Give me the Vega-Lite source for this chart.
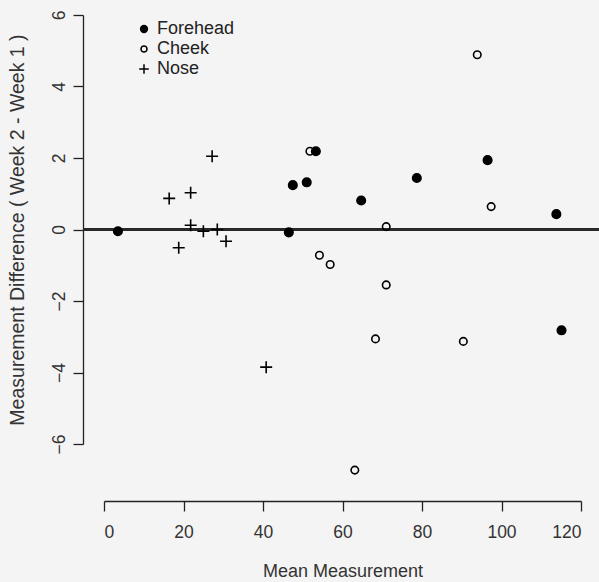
{
  "$schema": "https://vega.github.io/schema/vega-lite/v6.json",
  "width": 477,
  "height": 429,
  "autosize": {"type": "none"},
  "padding": {"left": 104, "top": 15, "right": 18, "bottom": 138},
  "background": "#f4f4f4",
  "config": {
    "view": {"stroke": null},
    "font": "Liberation Sans",
    "axis": {"grid": false, "domainColor": "#222", "domainWidth": 1.3, "tickColor": "#222", "tickWidth": 1.3, "tickSize": 10, "labelColor": "#333", "titleColor": "#333", "labelFontSize": 17.5, "titleFontSize": 18, "labelFont": "Liberation Sans", "titleFont": "Liberation Sans", "titleFontWeight": "normal"}
  },
  "data": {"values": [
    {"site": "Forehead", "mean": 3.5, "diff": -0.05},
    {"site": "Forehead", "mean": 46.5, "diff": -0.08},
    {"site": "Forehead", "mean": 47.5, "diff": 1.24},
    {"site": "Forehead", "mean": 51.0, "diff": 1.32},
    {"site": "Forehead", "mean": 53.3, "diff": 2.19},
    {"site": "Forehead", "mean": 64.7, "diff": 0.81},
    {"site": "Forehead", "mean": 78.7, "diff": 1.44},
    {"site": "Forehead", "mean": 96.5, "diff": 1.94},
    {"site": "Forehead", "mean": 113.8, "diff": 0.43},
    {"site": "Forehead", "mean": 115.1, "diff": -2.82},
    {"site": "Cheek", "mean": 51.8, "diff": 2.19},
    {"site": "Cheek", "mean": 93.9, "diff": 4.89},
    {"site": "Cheek", "mean": 97.4, "diff": 0.64},
    {"site": "Cheek", "mean": 71.0, "diff": 0.08},
    {"site": "Cheek", "mean": 54.2, "diff": -0.72},
    {"site": "Cheek", "mean": 56.9, "diff": -0.98},
    {"site": "Cheek", "mean": 71.0, "diff": -1.55},
    {"site": "Cheek", "mean": 68.3, "diff": -3.06},
    {"site": "Cheek", "mean": 90.4, "diff": -3.13},
    {"site": "Cheek", "mean": 63.1, "diff": -6.73},
    {"site": "Nose", "mean": 16.4, "diff": 0.87},
    {"site": "Nose", "mean": 21.8, "diff": 1.03},
    {"site": "Nose", "mean": 27.2, "diff": 2.05},
    {"site": "Nose", "mean": 21.8, "diff": 0.12},
    {"site": "Nose", "mean": 18.8, "diff": -0.51},
    {"site": "Nose", "mean": 25.0, "diff": -0.05},
    {"site": "Nose", "mean": 28.5, "diff": 0.0},
    {"site": "Nose", "mean": 30.7, "diff": -0.33},
    {"site": "Nose", "mean": 40.8, "diff": -3.85}
  ]},
  "layer": [
    {
      "mark": {"type": "rule", "color": "#2a2a2a", "strokeWidth": 1.3},
      "encoding": {
        "x": {"datum": -5, "type": "quantitative", "scale": {"domain": [0, 120], "nice": false, "zero": false}, "axis": {"title": "Mean Measurement", "values": [0, 20, 40, 60, 80, 100, 120], "offset": 57, "labelPadding": 12, "titlePadding": 22}},
        "x2": {"datum": 124.5},
        "y": {"datum": 0, "type": "quantitative", "scale": {"domain": [-6, 6], "nice": false, "zero": false}, "axis": {"title": "Measurement Difference ( Week 2 - Week 1 )", "values": [-6, -4, -2, 0, 2, 4, 6], "offset": 21, "labelAngle": -90, "labelPadding": 5, "titlePadding": 23, "titleFontSize": 19.5}}
      }
    },
    {
      "mark": {"type": "point", "stroke": "black", "strokeWidth": 1.6, "opacity": 1, "size": 100},
      "encoding": {
        "x": {"field": "mean", "type": "quantitative"},
        "y": {"field": "diff", "type": "quantitative"},
        "shape": {"field": "site", "type": "nominal",
          "scale": {"domain": ["Forehead", "Cheek", "Nose"],
            "range": [
              "M0.85,0C0.85,0.469,0.469,0.85,0,0.85C-0.469,0.85,-0.85,0.469,-0.85,0C-0.85,-0.469,-0.469,-0.85,0,-0.85C0.469,-0.85,0.85,-0.469,0.85,0Z",
              "M0.75,0C0.75,0.414,0.414,0.75,0,0.75C-0.414,0.75,-0.75,0.414,-0.75,0C-0.75,-0.414,-0.414,-0.75,0,-0.75C0.414,-0.75,0.75,-0.414,0.75,0Z",
              "M-1.2,0H1.2M0,-1.2V1.2"
            ]},
          "legend": {"title": null, "orient": "none", "legendX": 31, "legendY": 5, "padding": 0, "labelFontSize": 18, "labelColor": "#222", "labelFont": "Liberation Sans", "symbolSize": 64, "rowPadding": 2, "labelOffset": 4,
            "encode": {"symbols": {"update": {"stroke": {"value": "black"}, "strokeWidth": {"value": 1.5}}}}}},
        "fill": {"field": "site", "type": "nominal",
          "scale": {"domain": ["Forehead", "Cheek", "Nose"], "range": ["black", "transparent", "transparent"]},
          "legend": {"title": null, "orient": "none", "legendX": 31, "legendY": 5, "padding": 0, "labelFontSize": 18, "labelColor": "#222", "labelFont": "Liberation Sans", "symbolSize": 64, "rowPadding": 2, "labelOffset": 4,
            "encode": {"symbols": {"update": {"stroke": {"value": "black"}, "strokeWidth": {"value": 1.5}}}}}}
      }
    }
  ]
}
